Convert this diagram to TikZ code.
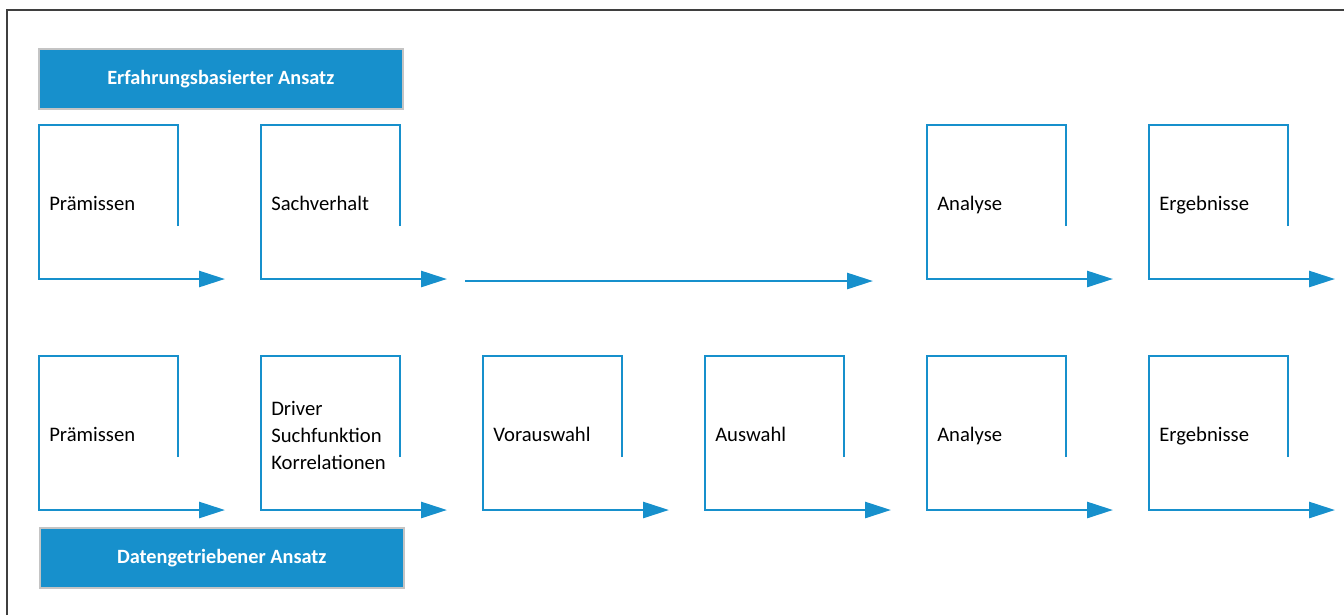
\documentclass[tikz,border=0pt]{standalone}
\usepackage{fontspec}
\setmainfont{Carlito}
\usetikzlibrary{arrows.meta}
\definecolor{flowblue}{HTML}{1790CC}
\definecolor{edgegray}{HTML}{C4C4C4}
\definecolor{framegray}{HTML}{3F3F3F}
\begin{document}
\begin{tikzpicture}[x=0.75pt,y=-0.75pt,
  flowline/.style={draw=flowblue,line width=2pt,line join=miter,
    -{Triangle[length=19.5pt,width=12pt]}},
  header/.style={fill=flowblue,draw=edgegray,line width=1.2pt,
    text=white,font=\bfseries\fontsize{15.2}{17}\selectfont,
    minimum width=273pt,minimum height=45pt,inner sep=0pt,anchor=north west},
  label/.style={anchor=base west,inner sep=0pt,align=left,
    font=\fontsize{15.5}{20.25}\selectfont},
  multilabel/.style={label,anchor=west}]
  \useasboundingbox (0,0) rectangle (1344,615);
  % outer frame (top and left edges)
  \draw[framegray,line width=0.9pt] (7,615) -- (7,10) -- (1344,10);

  % headers
  \node[header] (hdrA) at (38,48) {Erfahrungsbasierter Ansatz};
  \node[header] (hdrB) at (39,527) {Datengetriebener Ansatz};

  % process step brackets: open top-right corner, arrow leaving the bottom edge
  \newcommand{\stepbracket}[3]{% x-left, top y, name
    \coordinate (#3-a) at (#1+139,#2+101);
    \coordinate (#3-b) at (#1+139,#2);
    \coordinate (#3-c) at (#1,#2);
    \coordinate (#3-d) at (#1,#2+154);
    \coordinate (#3-e) at (#1+186,#2+154);
    \draw[flowline] (#3-a) -- (#3-b) -- (#3-c) -- (#3-d) -- (#3-e);}

  % row 1: experience-based approach
  \stepbracket{39}{125}{ra1}
  \stepbracket{261}{125}{ra2}
  \stepbracket{927}{125}{ra5}
  \stepbracket{1149}{125}{ra6}
  \node[label] (pa1) at (49,210) {Prämissen};
  \node[label] (pa2) at (271,210) {Sachverhalt};
  \node[label] (pa5) at (937,210) {Analyse};
  \node[label] (pa6) at (1159,210) {Ergebnisse};
  \coordinate (skipstart) at (465,281);
  \coordinate (skipend) at (873,281);
  \draw[flowline] (skipstart) -- (skipend);

  % row 2: data-driven approach
  \stepbracket{39}{356}{rb1}
  \stepbracket{261}{356}{rb2}
  \stepbracket{483}{356}{rb3}
  \stepbracket{705}{356}{rb4}
  \stepbracket{927}{356}{rb5}
  \stepbracket{1149}{356}{rb6}
  \node[label] (pb1) at (49,441) {Prämissen};
  \node[multilabel] (pb2) at (271,435) {Driver\\Suchfunktion\\Korrelationen};
  \node[label] (pb3) at (493,441) {Vorauswahl};
  \node[label] (pb4) at (715,441) {Auswahl};
  \node[label] (pb5) at (937,441) {Analyse};
  \node[label] (pb6) at (1159,441) {Ergebnisse};
\end{tikzpicture}
\end{document}
